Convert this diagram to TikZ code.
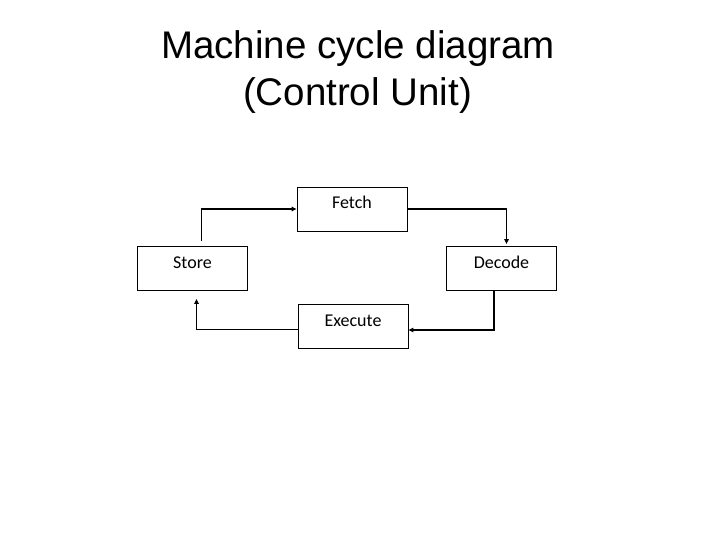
\documentclass[tikz,border=0pt]{standalone}
\usepackage{fontspec}
\setmainfont{Liberation Sans}
\newfontfamily\boxfont{Carlito}
\usetikzlibrary{arrows.meta}

\begin{document}
\begin{tikzpicture}[
x=1pt, y=-1pt,
box/.style={rectangle, draw, line width=0.8pt, minimum width=110pt, inner ysep=0pt, text height=22pt, text depth=22pt, font=\boxfont\fontsize{18}{20}\selectfont},
arrow/.style={-{Triangle[length=5pt, width=4.5pt]}, line width=1.8pt},
title/.style={anchor=base, font=\fontsize{38.5}{46}\selectfont}
]
\useasboundingbox (0,0) rectangle (720,540);

% --- Titre ---
\node[title] (title) at (358,59) {Machine cycle diagram};
\node[title] (subtitle) at (357.5,106) {(Control Unit)};

% --- Etapes du cycle ---
\node[box] (fetch) at (352,209) {Fetch};
\node[box] (store) at (192.5,268.5) {Store};
\node[box] (decode) at (501.5,268.5) {Decode};
\node[box] (execute) at (353,326.5) {Execute};

% --- Flèches de liaison ---
\draw[arrow, shorten <=5pt] ([xshift=9pt]store.north) |- (fetch.west);
\draw[arrow, shorten >=2pt] (fetch.east) -| ([xshift=5pt]decode.north);
\draw[arrow] ([xshift=-7.5pt]decode.south) |- ([yshift=-3.5pt]execute.east);
\draw[arrow, shorten >=8pt] ([yshift=-3pt]execute.west) -| ([xshift=4pt]store.south);

\end{tikzpicture}
\end{document}
